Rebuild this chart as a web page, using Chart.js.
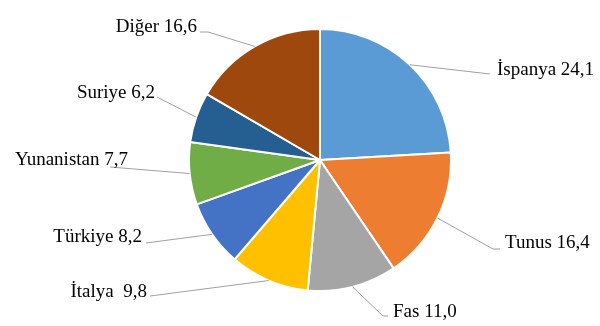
<!DOCTYPE html>
<html>
<head>
<meta charset="utf-8">
<script src="https://cdn.jsdelivr.net/npm/chart.js"></script>
<style>
  body { margin: 0; background: #fff; }
</style>
</head>
<body>
<canvas id="pie" width="600" height="326"></canvas>
<script>
// Datos del grafico
const countries = ['İspanya', 'Tunus', 'Fas', 'İtalya', 'Türkiye', 'Yunanistan', 'Suriye', 'Diğer'];
const shares = [24.1, 16.4, 11.0, 9.8, 8.2, 7.7, 6.2, 16.6];
const colors = ['#5B9BD5', '#ED7D31', '#A5A5A5', '#FFC000', '#4472C4', '#70AD47', '#255E91', '#9E480E'];

// Posicion de etiquetas relativa al centro: [textoX, textoY, alineacion, puntos de la linea...]
const labelLayout = [
  [177, -90, 'left', [[170, -86]]],
  [185, 83, 'left', [[173, 89], [180, 89]]],
  [73, 152, 'left', [[63, 156], [68, 156]]],
  [-173, 132, 'right', [[-170, 136]]],
  [-178, 77, 'right', [[-174, 83]]],
  [-192, 0, 'right', [[-210, 7]]],
  [-165, -67, 'right', [[-163, -63]]],
  [-123, -133, 'right', [[-112, -128], [-120, -128]]]
];

function labelText(i) {
  const sep = countries[i] === 'İtalya' ? '  ' : ' ';
  return countries[i] + sep + shares[i].toFixed(1).replace('.', ',');
}

// Plugin para etiquetas con lineas guia
const leaderLabels = {
  id: 'leaderLabels',
  afterDraw(chart) {
    const ctx = chart.ctx;
    const arcs = chart.getDatasetMeta(0).data;
    ctx.save();
    arcs.forEach((arc, i) => {
      const p = arc.getProps(['x', 'y', 'startAngle', 'endAngle', 'outerRadius'], true);
      const mid = (p.startAngle + p.endAngle) / 2;
      const sx = p.x + Math.cos(mid) * p.outerRadius;
      const sy = p.y + Math.sin(mid) * p.outerRadius;
      const [tx, ty, align, pts] = labelLayout[i];
      ctx.strokeStyle = '#A0A0A0';
      ctx.lineWidth = 1;
      ctx.beginPath();
      ctx.moveTo(sx, sy);
      pts.forEach(pt => ctx.lineTo(p.x + pt[0], p.y + pt[1]));
      ctx.stroke();
      ctx.fillStyle = '#000';
      ctx.font = '19px "Liberation Serif", "Times New Roman", serif';
      ctx.textAlign = align;
      ctx.textBaseline = 'middle';
      ctx.fillText(labelText(i), p.x + tx, p.y + ty);
    });
    ctx.restore();
  }
};

new Chart(document.getElementById('pie'), {
  type: 'pie',
  data: {
    labels: countries,
    datasets: [{ data: shares, backgroundColor: colors, borderColor: '#fff', borderWidth: 2 }]
  },
  options: {
    responsive: false,
    animation: false,
    layout: { padding: { left: 188, right: 148, top: 28, bottom: 34 } },
    plugins: { legend: { display: false }, tooltip: { enabled: false } }
  },
  plugins: [leaderLabels]
});
</script>
</body>
</html>
